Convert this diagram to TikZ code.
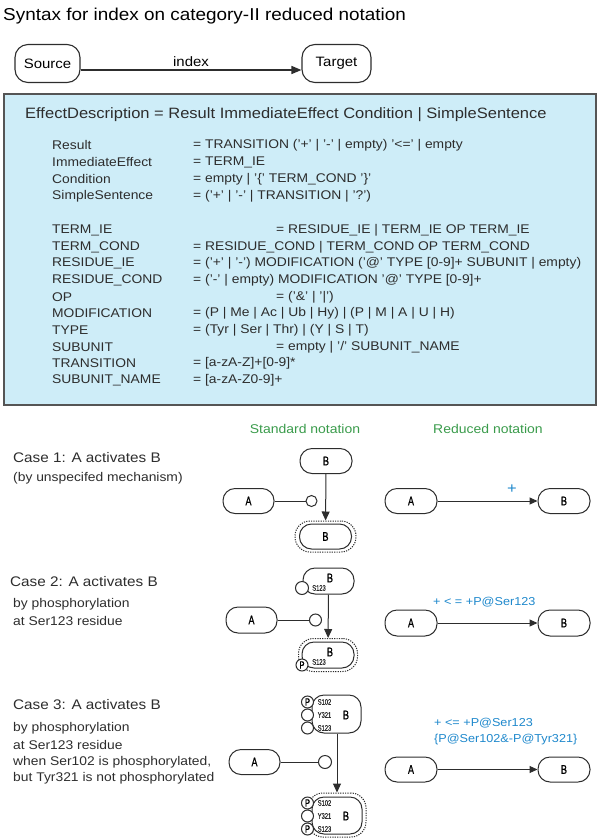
\documentclass[tikz,border=0pt]{standalone}
\usepackage{fontspec}
\setmainfont{Liberation Sans}[FakeStretch=1.1]
\newfontfamily\protfont{Liberation Sans}[FakeStretch=0.72,FakeBold=0.8]
\usetikzlibrary{arrows.meta}
\definecolor{boxblue}{RGB}{206,237,248}
\definecolor{framegray}{RGB}{85,85,85}
\definecolor{notegreen}{RGB}{58,155,75}
\definecolor{labelblue}{RGB}{30,136,204}
\definecolor{inkgray}{RGB}{45,45,45}

\begin{document}
\begin{tikzpicture}[x=1pt,y=-1pt,
  term/.style={draw=inkgray, line width=1.1pt, rounded corners=13pt, minimum height=38pt, inner sep=0pt, font=\fontsize{13.6}{14}\selectfont},
  prot/.style={draw=inkgray, line width=1pt, rounded corners=12pt, minimum width=52pt, minimum height=25pt, inner sep=0pt, font=\protfont\fontsize{12.5}{12.5}\selectfont},
  site/.style={circle, draw=inkgray, line width=1pt, fill=white, minimum size=12pt, inner sep=0pt, font=\protfont\fontsize{10.5}{10.5}\selectfont},
  sitelabel/.style={inner sep=0pt, text=inkgray, font=\protfont\fontsize{8}{8}\selectfont},
  halo/.style={draw=inkgray, line width=1pt, dash pattern=on 1.2pt off 1.2pt, rounded corners=15pt, inner sep=0pt},
  act/.style={-{Triangle[length=8pt,width=7pt]}, line width=1pt, draw=inkgray},
  gram/.style={anchor=west, inner sep=0pt, text=inkgray, font=\fontsize{12.6}{14}\selectfont},
  casetext/.style={anchor=west, inner sep=0pt, text=inkgray, font=\fontsize{12.6}{14}\selectfont},
  casehead/.style={anchor=west, inner sep=0pt, text=inkgray, font=\fontsize{13.9}{15}\selectfont},
  notehead/.style={inner sep=0pt, text=notegreen, font=\fontsize{12.7}{14}\selectfont},
  effect/.style={anchor=west, inner sep=0pt, text=labelblue, font=\fontsize{11.5}{13}\selectfont}]
\useasboundingbox (0,0) rectangle (600,839);

% Text Node
\draw (3,16) node [anchor=west][inner sep=0pt] (title) {\fontsize{17.2}{18}\selectfont Syntax for index on category-II reduced notation};

%Shape: Source and Target
\node [term, minimum width=65pt] (source) at (47.5,63.5) {Source};
\node [term, minimum width=69pt] (target) at (336.5,63.5) {Target};
\draw [-{Triangle[length=10pt,width=8pt]}, line width=1.5pt, draw=inkgray] ([yshift=-6.5pt]source.east) -- ([yshift=-6.5pt]target.west) node [midway, above=3pt, inner sep=0pt, font=\fontsize{13.6}{14}\selectfont] (index) {index};

%Shape: Rectangle
\draw [fill=boxblue, draw=framegray, line width=1.4pt] (4,94) rectangle (596,405);

% Text Node
\draw (25,115) node [gram, font=\fontsize{15}{16}\selectfont] (effdesc) {EffectDescription = Result ImmediateEffect Condition | SimpleSentence};
\draw (52,145) node [gram] (resultL) {Result};
\draw (193,145) node [gram] (resultR) {= TRANSITION ('+' | '-' | empty) '<=' | empty};
\draw (52,162) node [gram] (immL) {ImmediateEffect};
\draw (193,162) node [gram] (immR) {= TERM\_IE};
\draw (52,179) node [gram] (condL) {Condition};
\draw (193,179) node [gram] (condR) {= empty | '\{' TERM\_COND '\}'};
\draw (52,196) node [gram] (simpleL) {SimpleSentence};
\draw (193,196) node [gram] (simpleR) {= ('+' | '-' | TRANSITION | '?')};
\draw (52,230) node [gram] (termieL) {TERM\_IE};
\draw (276,230) node [gram] (termieR) {= RESIDUE\_IE | TERM\_IE OP TERM\_IE};
\draw (52,247) node [gram] (termcondL) {TERM\_COND};
\draw (193,247) node [gram] (termcondR) {= RESIDUE\_COND | TERM\_COND OP TERM\_COND};
\draw (52,263) node [gram] (resieL) {RESIDUE\_IE};
\draw (193,263) node [gram] (resieR) {= ('+' | '-') MODIFICATION ('@' TYPE [0-9]+ SUBUNIT | empty)};
\draw (52,280) node [gram] (rescondL) {RESIDUE\_COND};
\draw (193,280) node [gram] (rescondR) {= ('-' | empty) MODIFICATION '@' TYPE [0-9]+};
\draw (52,297) node [gram] (opL) {OP};
\draw (276,297) node [gram] (opR) {= ('\&' | '|')};
\draw (52,313) node [gram] (modL) {MODIFICATION};
\draw (193,313) node [gram] (modR) {= (P | Me | Ac | Ub | Hy) | (P | M | A | U | H)};
\draw (52,330) node [gram] (typeL) {TYPE};
\draw (193,330) node [gram] (typeR) {= (Tyr | Ser | Thr) | (Y | S | T)};
\draw (52,347) node [gram] (subL) {SUBUNIT};
\draw (276,347) node [gram] (subR) {= empty | '/' SUBUNIT\_NAME};
\draw (52,363) node [gram] (transL) {TRANSITION};
\draw (193,363) node [gram] (transR) {= [a-zA-Z]+[0-9]*};
\draw (52,380) node [gram] (subnameL) {SUBUNIT\_NAME};
\draw (193,380) node [gram] (subnameR) {= [a-zA-Z0-9]+};

% Text Node
\draw (305,429) node [notehead] (stdhead) {Standard notation};
\draw (488,429) node [notehead] (redhead) {Reduced notation};

% Case 1
\draw (13,458) node [casehead] (case1) {Case 1: A activates B};
\draw (13,478) node [casetext] (case1a) {(by unspecifed mechanism)};
\node [prot] (b1top) at (326,461) {B};
\node [prot, minimum width=51pt] (a1) at (248.5,501) {A};
\node [site, minimum size=11pt] (site1) at (311.5,501) {};
\node [halo, minimum width=61pt, minimum height=31pt] (halo1) at (325.5,536.5) {};
\node [prot] (b1bot) at (325.5,536.5) {B};
\draw [line width=1pt, draw=inkgray] (a1) -- (site1);
\draw [act, -{Triangle[length=9pt,width=8pt]}] (b1top) -- (halo1);
\node [prot] (ra1) at (411,501) {A};
\node [prot] (rb1) at (564,501) {B};
\draw [act] (ra1) -- (rb1);
\draw (512,489) node [effect, anchor=center, font=\fontsize{15}{15}\selectfont] (eff1) {+};

% Case 2
\draw (10,582) node [casehead] (case2) {Case 2: A activates B};
\draw (13,604) node [casetext] (case2a) {by phosphorylation};
\draw (13,621) node [casetext] (case2b) {at Ser123 residue};
\node [prot, minimum width=51pt, minimum height=26pt] (b2top) at (328.5,581) {};
\draw (330,578) node [prot, draw=none] (b2topB) {B};
\draw (319,588) node [sitelabel] (b2topS) {S123};
\node [site, minimum size=13pt] (site2top) at (302,588) {};
\node [prot, minimum width=51pt, minimum height=26pt] (a2) at (251.5,620) {A};
\node [site] (site2) at (315.5,620) {};
\node [halo, minimum width=59pt, minimum height=33pt] (halo2) at (328,655) {};
\node [prot, minimum height=26pt] (b2bot) at (328,655) {};
\draw (330,652) node [prot, draw=none] (b2botB) {B};
\draw (319,662) node [sitelabel] (b2botS) {S123};
\node [site] (site2bot) at (302,665) {P};
\draw [line width=1pt, draw=inkgray] (a2) -- (site2);
\draw [act, -{Triangle[length=9pt,width=8pt]}] (b2top) -- (halo2);
\node [prot, minimum height=26pt] (ra2) at (411,623) {A};
\node [prot, minimum height=26pt] (rb2) at (564,623) {B};
\draw [act] (ra2) -- (rb2);
\draw (433,602) node [effect] (eff2) {+ < = +P@Ser123};

% Case 3
\draw (13,705) node [casehead] (case3) {Case 3: A activates B};
\draw (13,728) node [casetext] (case3a) {by phosphorylation};
\draw (13,745) node [casetext] (case3b) {at Ser123 residue};
\draw (13,762) node [casetext] (case3c) {when Ser102 is phosphorylated,};
\draw (13,778) node [casetext] (case3d) {but Tyr321 is not phosphorylated};
\node [prot, minimum width=49pt, minimum height=38pt] (b3top) at (336.5,714) {};
\draw (346,715) node [prot, draw=none] (b3topB) {B};
\node [site] (s3a) at (307.5,702) {P};
\node [site] (s3b) at (307.5,715) {};
\node [site] (s3c) at (307.5,728) {};
\draw (324.5,702) node [sitelabel] (l3a) {S102};
\draw (324.5,715) node [sitelabel] (l3b) {Y321};
\draw (324.5,728) node [sitelabel] (l3c) {S123};
\node [prot, minimum width=51pt, minimum height=25pt] (a3) at (254.5,762) {A};
\node [site, minimum size=13pt] (site3) at (325,762) {};
\draw [line width=1pt, draw=inkgray] (a3) -- (site3);
\node [halo, minimum width=58pt, minimum height=44pt] (halo3) at (337,815) {};
\node [prot, minimum width=50pt, minimum height=37pt] (b3bot) at (337,815.5) {};
\draw (346,816) node [prot, draw=none] (b3botB) {B};
\node [site] (s3d) at (307.5,803) {P};
\node [site] (s3e) at (307.5,816) {};
\node [site] (s3f) at (307.5,829) {P};
\draw (324.5,803) node [sitelabel] (l3d) {S102};
\draw (324.5,816) node [sitelabel] (l3e) {Y321};
\draw (324.5,829) node [sitelabel] (l3f) {S123};
\draw [act, -{Triangle[length=9pt,width=8pt]}] (b3top.south -| halo3.north) -- (halo3.north);
\node [prot, minimum height=25pt] (ra3) at (411,769.5) {A};
\node [prot, minimum height=25pt] (rb3) at (564,769.5) {B};
\draw [act] (ra3) -- (rb3);
\draw (434,723) node [effect] (eff3a) {+ <= +P@Ser123};
\draw (434,740) node [effect] (eff3b) {\{P@Ser102\&-P@Tyr321\}};

\end{tikzpicture}
\end{document}
